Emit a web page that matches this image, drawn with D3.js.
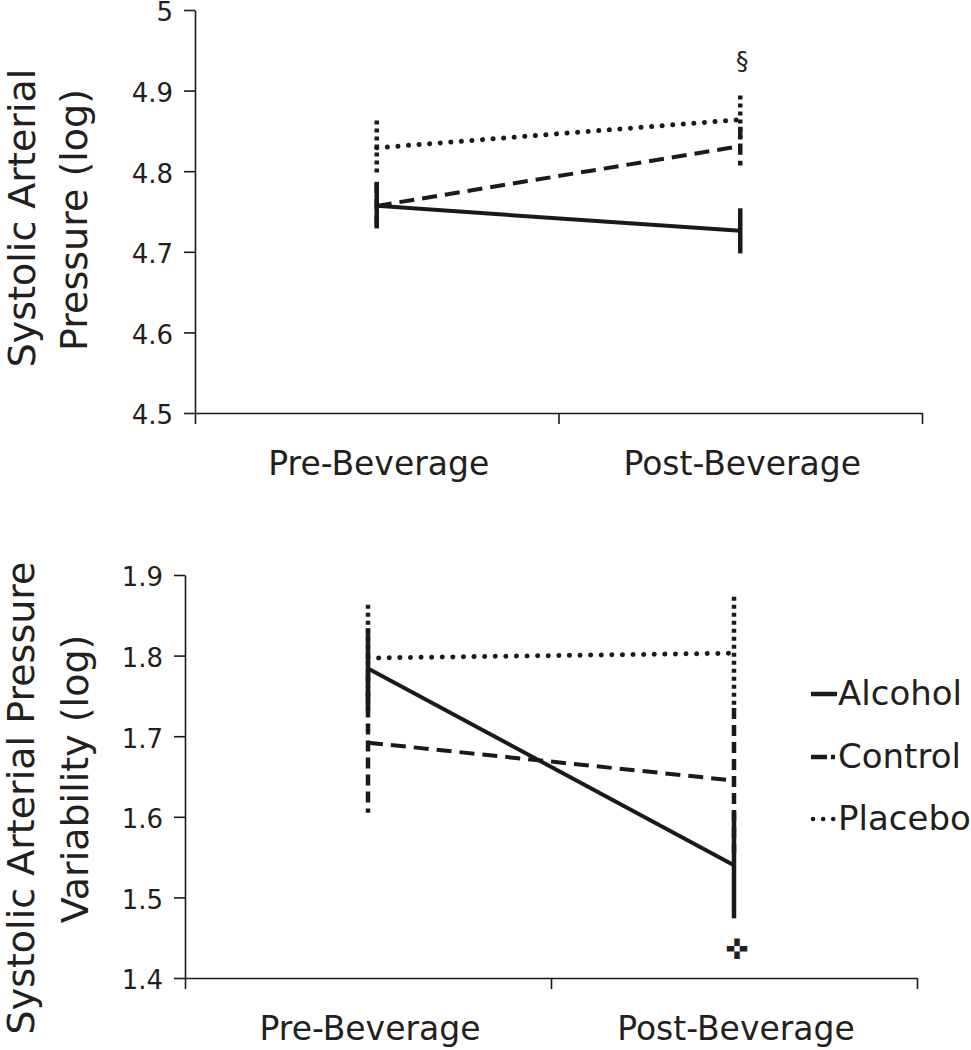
<!DOCTYPE html>
<html><head><meta charset="utf-8">
<script src="https://cdn.jsdelivr.net/npm/d3@7"></script>
<style>
body{margin:0;background:#fff;}
svg{display:block;}
text{font-family:"DejaVu Sans", sans-serif;fill:#231f20;}
</style></head>
<body>
<svg id="c" width="971" height="1050"></svg>
<script>
const categories = ["Pre-Beverage", "Post-Beverage"];
const seriesNames = ["Alcohol", "Control", "Placebo"];

// Panel 1: Systolic Arterial Pressure (log)
const sapTicks = [4.5, 4.6, 4.7, 4.8, 4.9, 5];
const sapAlcohol = [4.757, 4.726];
const sapAlcoholErr = [0.028, 0.028];
const sapControl = [4.757, 4.831];
const sapControlErr = [0.030, 0.024];
const sapPlacebo = [4.829, 4.864];
const sapPlaceboErr = [0.034, 0.030];

// Panel 2: Systolic Arterial Pressure Variability (log)
const sapvTicks = [1.4, 1.5, 1.6, 1.7, 1.8, 1.9];
const sapvAlcohol = [1.784, 1.540];
const sapvAlcoholErr = [0.050, 0.066];
const sapvControl = [1.692, 1.645];
const sapvControlErr = [0.087, 0.090];
const sapvPlacebo = [1.797, 1.803];
const sapvPlaceboErr = [0.066, 0.070];

const svg = d3.select("#c");
const ink = "#1a1a1a";

const styles = {
  Alcohol: {line: null, bar: null, cap: "butt"},
  Control: {line: "15,8", bar: "11,6", cap: "butt"},
  Placebo: {line: "0.1,10.5", bar: "4,4", cap: "round"}
};

function panel(cfg) {
  const g = svg.append("g");
  const y = d3.scaleLinear().domain([cfg.ticks[0], cfg.ticks[cfg.ticks.length-1]]).range([cfg.bottom, cfg.top]);
  const xb = d3.scaleBand().domain(categories).range([cfg.left, cfg.right]).padding(0);
  const xl = d3.scaleLinear().domain([0, categories.length]).range([cfg.left, cfg.right]);
  const cx = c => xb(c) + xb.bandwidth()/2;

  // y axis
  const ya = g.append("g").attr("transform", `translate(${cfg.left},0)`)
    .call(d3.axisLeft(y).tickValues(cfg.ticks).tickSize(11).tickSizeOuter(0).tickPadding(11)
      .tickFormat(d => d3.format("")(+d.toFixed(1))));
  ya.selectAll("path,line").attr("stroke", ink).attr("stroke-width", 1.6);
  ya.selectAll("text").attr("font-size", 26).attr("font-family", "DejaVu Sans, sans-serif")
    .attr("fill", "#231f20").attr("dy", "0.42em");

  // x axis with boundary ticks
  const xa = g.append("g").attr("transform", `translate(0,${cfg.bottom})`)
    .call(d3.axisBottom(xl).tickValues(d3.range(categories.length+1)).tickSize(11).tickSizeOuter(0).tickFormat(""));
  xa.selectAll("path,line").attr("stroke", ink).attr("stroke-width", 1.6);

  g.selectAll("text.xcat").data(categories).enter().append("text")
    .attr("class", "xcat").attr("x", d => cx(d) + 2).attr("y", cfg.bottom + 62)
    .attr("text-anchor", "middle").attr("font-size", 33).text(d => d);

  // y title
  cfg.title.forEach((t, i) => {
    g.append("text").attr("transform", `translate(${cfg.titleX[i]},${cfg.titleY[i]}) rotate(-90)`)
      .attr("text-anchor", "middle").attr("font-size", 38).text(t);
  });

  // series
  const order = ["Placebo", "Control", "Alcohol"];
  order.forEach(name => {
    const vals = cfg.data[name][0], errs = cfg.data[name][1];
    const st = styles[name];
    const pts = categories.map((c, i) => ({c, v: vals[i], e: errs[i]}));
    // error bars
    g.selectAll(null).data(pts).enter().append("line")
      .attr("x1", d => cx(d.c)).attr("x2", d => cx(d.c))
      .attr("y1", d => y(d.v + d.e)).attr("y2", d => y(d.v - d.e))
      .attr("stroke", ink).attr("stroke-width", 4.5)
      .attr("stroke-dasharray", st.bar);
    // line
    g.append("path").datum(pts)
      .attr("d", d3.line().x(d => cx(d.c)).y(d => y(d.v)))
      .attr("fill", "none").attr("stroke", ink)
      .attr("stroke-width", name === "Placebo" ? 5 : 4)
      .attr("stroke-linecap", st.cap)
      .attr("stroke-dasharray", st.line);
  });
  return {g, y, cx};
}

const p1 = panel({
  left: 195, right: 922, top: 10, bottom: 413, ticks: sapTicks,
  title: ["Systolic Arterial", "Pressure (log)"], titleX: [35, 87], titleY: [218, 220],
  data: {Alcohol: [sapAlcohol, sapAlcoholErr], Control: [sapControl, sapControlErr], Placebo: [sapPlacebo, sapPlaceboErr]}
});
p1.g.append("text").attr("x", p1.cx("Post-Beverage") + 2).attr("y", 69)
  .attr("text-anchor", "middle").attr("font-size", 25).text("§");

const p2 = panel({
  left: 185, right: 917, top: 575, bottom: 978, ticks: sapvTicks,
  title: ["Systolic Arterial Pressure", "Variability (log)"], titleX: [34, 88], titleY: [798, 779],
  data: {Alcohol: [sapvAlcohol, sapvAlcoholErr], Control: [sapvControl, sapvControlErr], Placebo: [sapvPlacebo, sapvPlaceboErr]}
});
p2.g.append("text").attr("x", p2.cx("Post-Beverage") + 3).attr("y", 959)
  .attr("text-anchor", "middle").attr("font-size", 28).text("✜");

// legend
const leg = svg.append("g").attr("transform", "translate(811,0)");
const legY = [705, 768, 830];
seriesNames.forEach((n, i) => {
  const st = styles[n];
  leg.append("line").attr("x1", n === "Placebo" ? 2 : 0).attr("x2", 26).attr("y1", legY[i] - 11).attr("y2", legY[i] - 11)
    .attr("stroke", ink).attr("stroke-width", 4.5)
    .attr("stroke-linecap", st.cap)
    .attr("stroke-dasharray", n === "Control" ? "16,4,4,4" : (n === "Placebo" ? "0.1,10" : null));
  leg.append("text").attr("x", 27).attr("y", legY[i]).attr("font-size", 34).text(n);
});
</script>
</body></html>
